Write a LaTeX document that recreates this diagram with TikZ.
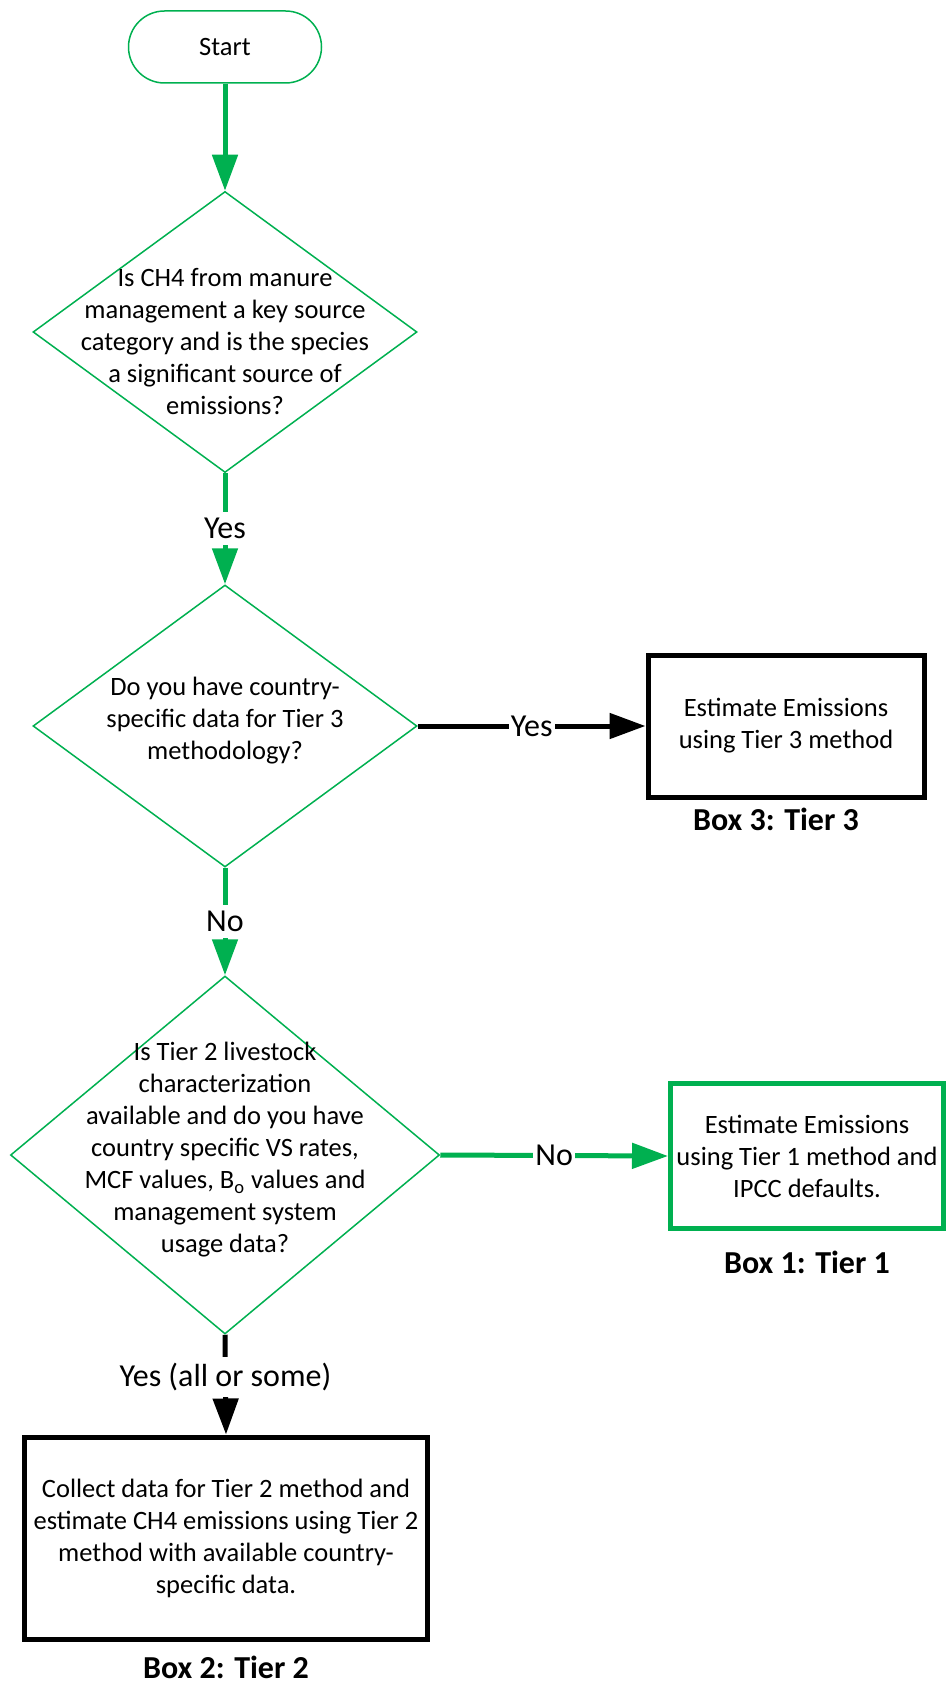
\documentclass[tikz,border=0pt]{standalone}
\usepackage{fontspec}
\setmainfont{Carlito}
\usetikzlibrary{shapes.geometric, arrows.meta, positioning}
\definecolor{flowgreen}{HTML}{00B050}

\begin{document}
\begin{tikzpicture}[x=0.5pt, y=-0.5pt,
	font=\fontsize{13.25}{16}\selectfont,
	terminal/.style={draw=flowgreen, line width=0.75pt, rounded corners=18pt,
		minimum width=96.5pt, minimum height=36pt},
	decision/.style={diamond, draw=flowgreen, line width=0.75pt, inner sep=0pt},
	question/.style={align=center, inner sep=0pt},
	tierbox/.style={draw, line width=2.5pt, align=center, inner sep=0pt},
	flowlabel/.style={font=\fontsize{16}{19}\selectfont, fill=white, inner xsep=1pt, inner ysep=3pt},
	boxlabel/.style={font=\fontsize{16}{19}\selectfont\bfseries, inner sep=0pt},
	flow/.style={-{Triangle[length=18pt, width=12.5pt]}, line width=2.5pt},
	]
	
	\useasboundingbox (0,0) rectangle (948,1684);
	
	% =======================================================
	% NODES
	% =======================================================
	\node[terminal] (start) at (225,47) {Start};
	
	% --- Decisions (shape and text kept apart) ---
	\node[decision, minimum width=192pt, minimum height=140.5pt] (keysrc) at (225,332) {};
	\node[question] (keysrctext) at (225,342)
	{Is CH4 from manure\\ management a key source\\ category and is the species\\ a significant source of\\ emissions?};
	
	\node[decision, minimum width=192pt, minimum height=141pt] (tierthree) at (225,726) {};
	\node[question] (tierthreetext) at (225,721)
	{Do you have country-\\ specific data for Tier 3\\ methodology?};
	
	\node[decision, minimum width=214.5pt, minimum height=179pt] (tiertwo) at (225,1155) {};
	\node[question] (tiertwotext) at (225,1150)
	{Is Tier 2 livestock\\ characterization\\ available and do you have\\ country specific VS rates,\\ MCF values, B\textsubscript{o} values and\\ management system\\ usage data?};
	
	% --- Method boxes ---
	\node[tierbox, minimum width=138pt, minimum height=71pt] (box3) at (786,726)
	{Estimate Emissions\\ using Tier 3 method};
	\node[tierbox, draw=flowgreen, minimum width=136.5pt, minimum height=72.5pt] (box1) at (807,1156)
	{Estimate Emissions\\ using Tier 1 method and\\ IPCC defaults.};
	\node[tierbox, minimum width=201.5pt, minimum height=101pt] (box2) at (226,1538)
	{Collect data for Tier 2 method and\\ estimate CH4 emissions using Tier 2\\ method with available country-\\ specific data.};
	
	\node[boxlabel, below=4pt of box3, xshift=-5pt] (box3lbl) {Box 3: Tier 3};
	\node[boxlabel, below=10pt of box1] (box1lbl) {Box 1: Tier 1};
	\node[boxlabel, below=7pt of box2] (box2lbl) {Box 2: Tier 2};
	
	% =======================================================
	% CONNECTORS
	% =======================================================
	\draw[flow, flowgreen] (start.south) -- (keysrc.north);
	\draw[flow, flowgreen] (keysrc.south) -- (tierthree.north)
	node[flowlabel, midway, text=black] {Yes};
	\draw[flow] (tierthree.east) -- (box3.west)
	node[flowlabel, midway] {Yes};
	\draw[flow, flowgreen] (tierthree.south) -- (tiertwo.north)
	node[flowlabel, midway, text=black] {No};
	\draw[flow, flowgreen] (tiertwo.east) -- (box1.west)
	node[flowlabel, midway, text=black] {No};
	\draw[flow] (tiertwo.south) -- (box2.north)
	node[flowlabel, pos=0.42] {Yes (all or some)};
	
\end{tikzpicture}
\end{document}
